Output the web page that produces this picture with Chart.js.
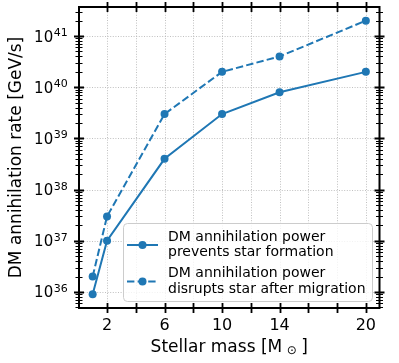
<!DOCTYPE html>
<html><head><meta charset="utf-8">
<script src="https://cdn.jsdelivr.net/npm/chart.js@4.4.0/dist/chart.umd.min.js"></script>
<style>html,body{margin:0;padding:0;background:#fff}</style>
</head><body>
<canvas id="c" width="399" height="363"></canvas>
<script>
// ---- data ----
const masses = [1, 2, 6, 10, 14, 20];
const preventsFormation = [9e35, 1e37, 4e38, 3e39, 8e39, 2e40];
const disruptsAfterMigration = [2e36, 3e37, 3e39, 2e40, 4e40, 2e41];
const seriesLabels = [
  ["DM annihilation power", "prevents star formation"],
  ["DM annihilation power", "disrupts star after migration"]
];
const xTicks = [2, 4, 6, 8, 10, 12, 14, 16, 18, 20];
const xTickLabels = [2, 6, 10, 14, 20];
const yDecades = [36, 37, 38, 39, 40, 41];
const xTitle = ["Stellar mass [M", "\u2299", "]"];
const yTitle = "DM annihilation rate [GeV/s]";

// ---- helpers ----
const FONT = "'DejaVu Sans', sans-serif";
const BLUE = '#1f77b4';

const allY = preventsFormation.concat(disruptsAfterMigration).map(Math.log10);
const lyMin = Math.min(...allY), lyMax = Math.max(...allY), lyR = lyMax - lyMin;
const yMin = Math.pow(10, lyMin - 0.05 * lyR), yMax = Math.pow(10, lyMax + 0.05 * lyR);
const xR = Math.max(...masses) - Math.min(...masses);
const xMin = Math.min(...masses) - 0.05 * xR, xMax = Math.max(...masses) + 0.05 * xR;

const toXY = arr => masses.map((m, i) => ({x: m, y: arr[i]}));

const axesPlugin = {
  id: 'axesPlugin',
  beforeDatasetsDraw(chart) {
    const {ctx, chartArea: a, scales: {x, y}} = chart;
    ctx.save();
    ctx.strokeStyle = '#b0b0b0';
    ctx.lineWidth = 0.8;
    ctx.setLineDash([1, 1.6]);
    ctx.beginPath();
    xTicks.forEach(v => { const p = Math.round(x.getPixelForValue(v)) + 0.5; ctx.moveTo(p, a.top); ctx.lineTo(p, a.bottom); });
    yDecades.forEach(e => { const p = Math.round(y.getPixelForValue(Math.pow(10, e))) + 0.5; ctx.moveTo(a.left, p); ctx.lineTo(a.right, p); });
    ctx.stroke();
    ctx.restore();
  },
  afterDatasetsDraw(chart) {
    const {ctx, chartArea: a, scales: {x, y}} = chart;
    ctx.save();
    ctx.strokeStyle = '#000';
    // minor y ticks
    ctx.lineWidth = 1.2;
    ctx.beginPath();
    for (let e = Math.floor(Math.log10(yMin)); e <= Math.ceil(Math.log10(yMax)); e++) {
      for (let m = 2; m <= 9; m++) {
        const v = m * Math.pow(10, e);
        if (v < yMin || v > yMax) continue;
        const p = Math.round(y.getPixelForValue(v)) + 0.5;
        ctx.moveTo(a.left - 3.5, p); ctx.lineTo(a.left + 3.5, p);
        ctx.moveTo(a.right - 3.5, p); ctx.lineTo(a.right + 3.5, p);
      }
    }
    ctx.stroke();
    // major ticks
    ctx.lineWidth = 1.8;
    ctx.beginPath();
    yDecades.forEach(e => {
      const p = Math.round(y.getPixelForValue(Math.pow(10, e))) + 0.5;
      ctx.moveTo(a.left - 5, p); ctx.lineTo(a.left + 5, p);
      ctx.moveTo(a.right - 5, p); ctx.lineTo(a.right + 5, p);
    });
    xTicks.forEach(v => {
      const p = Math.round(x.getPixelForValue(v)) + 0.5;
      ctx.moveTo(p, a.bottom - 5); ctx.lineTo(p, a.bottom + 5);
      ctx.moveTo(p, a.top - 5); ctx.lineTo(p, a.top + 5);
    });
    ctx.stroke();
    // frame
    ctx.lineWidth = 2;
    ctx.strokeRect(a.left, a.top, a.right - a.left, a.bottom - a.top);
    ctx.restore();
  },
  afterDraw(chart) {
    const {ctx, chartArea: a, scales: {y}} = chart;
    ctx.save();
    ctx.fillStyle = '#000';
    // y tick labels: 10 with raised exponent
    ctx.textBaseline = 'alphabetic';
    ctx.textAlign = 'left';
    yDecades.forEach(e => {
      const p = y.getPixelForValue(Math.pow(10, e));
      const exp = String(e);
      ctx.font = '11px ' + FONT;
      const we = ctx.measureText(exp).width;
      ctx.font = '15px ' + FONT;
      const wb = ctx.measureText('10').width;
      const right = a.left - 11.3;
      ctx.fillText('10', right - we - wb - 0.5, p + 5.5);
      ctx.font = '11px ' + FONT;
      ctx.fillText(exp, right - we, p);
    });

    // axis titles
    ctx.font = '17px ' + FONT;
    const w0 = ctx.measureText(xTitle[0]).width;
    ctx.font = '12px ' + FONT;
    const w1 = ctx.measureText(xTitle[1]).width;
    ctx.font = '17px ' + FONT;
    const w2 = ctx.measureText(xTitle[2]).width;
    const gap = 4.5;
    const total = w0 + gap + w1 + gap + w2;
    const sx = (a.left + a.right) / 2 - total / 2;
    const by = 351.5;
    ctx.fillText(xTitle[0], sx, by);
    ctx.font = '12px ' + FONT;
    ctx.fillText(xTitle[1], sx + w0 + gap, by + 2.5);
    ctx.font = '17px ' + FONT;
    ctx.fillText(xTitle[2], sx + w0 + gap + w1 + gap, by);

    ctx.save();
    ctx.translate(17, (a.top + a.bottom) / 2);
    ctx.rotate(-Math.PI / 2);
    ctx.textAlign = 'center';
    ctx.textBaseline = 'middle';
    ctx.fillText(yTitle, 0, 0);
    ctx.restore();

    // legend
    const bx = 123, byy = 223, bw = 249, bh = 78;
    ctx.beginPath();
    ctx.roundRect(bx + 0.5, byy + 0.5, bw, bh, 4);
    ctx.fillStyle = 'rgba(255,255,255,0.8)';
    ctx.fill();
    ctx.strokeStyle = '#cccccc';
    ctx.lineWidth = 1;
    ctx.stroke();
    const ds = chart.data.datasets;
    const entryY = [245, 281.5];
    ds.forEach((d, i) => {
      const cy = entryY[i];
      ctx.strokeStyle = d.borderColor;
      ctx.lineWidth = d.borderWidth;
      ctx.setLineDash(d.borderDash || []);
      ctx.beginPath();
      ctx.moveTo(127, cy); ctx.lineTo(158, cy);
      ctx.stroke();
      ctx.setLineDash([]);
      ctx.fillStyle = d.pointBackgroundColor;
      ctx.beginPath();
      ctx.arc(142.5, cy, d.pointRadius, 0, Math.PI * 2);
      ctx.fill();
      ctx.fillStyle = '#000';
      ctx.font = '14px ' + FONT;
      ctx.textAlign = 'left';
      ctx.textBaseline = 'middle';
      seriesLabels[i].forEach((t, j) => ctx.fillText(t, 168, cy - 8 + j * 15.5));
    });
    ctx.restore();
  }
};

new Chart(document.getElementById('c'), {
  type: 'line',
  data: {
    datasets: [
      {data: toXY(preventsFormation), borderColor: BLUE, backgroundColor: BLUE, pointBackgroundColor: BLUE,
       borderWidth: 2, pointRadius: 4, pointBorderWidth: 0, fill: false, tension: 0},
      {data: toXY(disruptsAfterMigration), borderColor: BLUE, backgroundColor: BLUE, pointBackgroundColor: BLUE,
       borderWidth: 2, borderDash: [7.4, 3.2], pointRadius: 4, pointBorderWidth: 0, fill: false, tension: 0}
    ]
  },
  options: {
    responsive: false, animation: false, devicePixelRatio: 1,
    layout: {padding: {top: 7, right: 19.5, left: 0, bottom: 0}},
    plugins: {legend: {display: false}, tooltip: {enabled: false}, title: {display: false}},
    scales: {
      x: {
        type: 'linear', min: xMin, max: xMax,
        afterBuildTicks: s => { s.ticks = xTicks.map(v => ({value: v})); },
        afterFit: s => { s.height = 55; },
        ticks: {callback: v => xTickLabels.includes(v) ? String(v) : '', font: {family: FONT, size: 16},
                color: '#000', padding: 8, maxRotation: 0, autoSkip: false},
        grid: {display: false, drawTicks: false},
        border: {display: false}
      },
      y: {
        type: 'logarithmic', min: yMin, max: yMax,
        afterBuildTicks: s => { s.ticks = yDecades.map(e => ({value: Math.pow(10, e)})); },
        afterFit: s => { s.width = 79; },
        ticks: {display: false},
        grid: {display: false, drawTicks: false},
        border: {display: false}
      }
    }
  },
  plugins: [axesPlugin]
});
</script>
</body></html>
